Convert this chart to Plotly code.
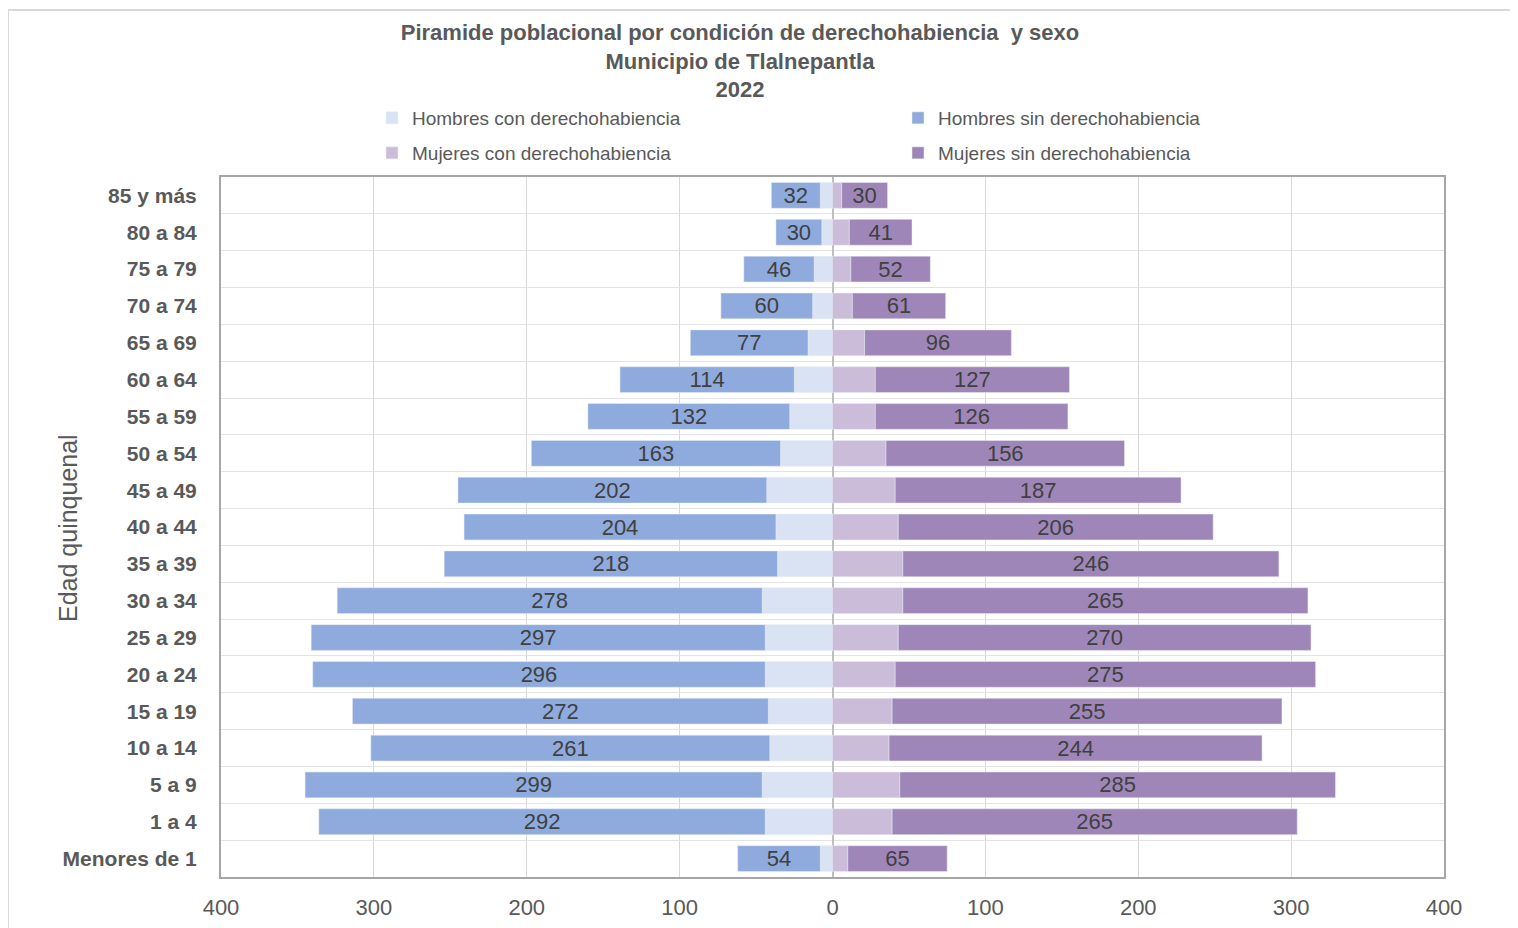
import plotly.graph_objects as go

categorias = ["Menores de 1", "1 a 4", "5 a 9", "10 a 14", "15 a 19", "20 a 24", "25 a 29",
              "30 a 34", "35 a 39", "40 a 44", "45 a 49", "50 a 54", "55 a 59", "60 a 64",
              "65 a 69", "70 a 74", "75 a 79", "80 a 84", "85 y más"]
hombres_con = [8, 44, 46, 41, 42, 44, 44, 46, 36, 37, 43, 34, 28, 25, 16, 13, 12, 7, 8]
hombres_sin = [54, 292, 299, 261, 272, 296, 297, 278, 218, 204, 202, 163, 132, 114, 77, 60, 46, 30, 32]
mujeres_con = [10, 39, 44, 37, 39, 41, 43, 46, 46, 43, 41, 35, 28, 28, 21, 13, 12, 11, 6]
mujeres_sin = [65, 265, 285, 244, 255, 275, 270, 265, 246, 206, 187, 156, 126, 127, 96, 61, 52, 41, 30]
x_ticks = [-400, -300, -200, -100, 0, 100, 200, 300, 400]
x_tick_text = ["400", "300", "200", "100", "0", "100", "200", "300", "400"]

SANS = "Liberation Sans, Arial, sans-serif"
GREY = "#595959"
LBL = "#404040"

c_hcon = "#dae3f3"
c_hsin = "#8faadc"
c_mcon = "#cbbcd9"
c_msin = "#9e87b8"

fig = go.Figure()
fig.add_trace(go.Bar(y=categorias, x=[-v for v in hombres_con], orientation="h",
                     name="Hombres con derechohabiencia", marker_color=c_hcon,
                     legend="legend", hoverinfo="skip"))
fig.add_trace(go.Bar(y=categorias, x=[-v for v in hombres_sin], orientation="h",
                     name="Hombres sin derechohabiencia", marker_color=c_hsin,
                     text=[str(v) for v in hombres_sin], textposition="inside",
                     insidetextanchor="middle", textangle=0, constraintext="none",
                     textfont=dict(family=SANS, size=22, color=LBL),
                     legend="legend", hoverinfo="skip"))
fig.add_trace(go.Bar(y=categorias, x=mujeres_con, orientation="h",
                     name="Mujeres con derechohabiencia", marker_color=c_mcon,
                     legend="legend2", hoverinfo="skip"))
fig.add_trace(go.Bar(y=categorias, x=mujeres_sin, orientation="h",
                     name="Mujeres sin derechohabiencia", marker_color=c_msin,
                     text=[str(v) for v in mujeres_sin], textposition="inside",
                     insidetextanchor="middle", textangle=0, constraintext="none",
                     textfont=dict(family=SANS, size=22, color=LBL),
                     legend="legend2", hoverinfo="skip"))

W, H = 1518, 928
OFF = 8  # page body margin
# plot area in page pixels: x 221..1444, y 177..877
L = 221 - OFF
T = 177 - OFF
R = W - (1444 - OFF)
B = H - (877 - OFF)
pw, ph = W - L - R, H - T - B

def px2paper_x(px):  # px in figure coordinates
    return (px - L) / pw

def px2paper_y(py):
    return (H - B - py) / ph

legend_common = dict(orientation="h", xanchor="left", yanchor="middle",
                     font=dict(family=SANS, size=19, color=GREY),
                     entrywidth=481, entrywidthmode="pixels",
                     bgcolor="rgba(0,0,0,0)", itemwidth=30, traceorder="normal")

fig.update_layout(
    width=W, height=H,
    margin=dict(l=L, r=R, t=T, b=B, autoexpand=False),
    paper_bgcolor="white", plot_bgcolor="white",
    barmode="relative", bargap=0.3,
    showlegend=True,
    title=dict(text="Piramide poblacional por condición de derechohabiencia  y sexo<br>Municipio de Tlalnepantla<br>2022",
               x=(740 - OFF) / W, xanchor="center", xref="container",
               y=1 - 32 / H, yanchor="middle", yref="container",
               font=dict(family=SANS, size=22, color=GREY, weight="bold")),
    legend=dict(x=px2paper_x(364), y=px2paper_y(110), **legend_common),
    legend2=dict(x=px2paper_x(364), y=px2paper_y(145), **legend_common),
    xaxis=dict(range=[-400, 400], tickvals=x_ticks, ticktext=x_tick_text,
               showgrid=True, gridcolor="#d9d9d9", gridwidth=1,
               zeroline=True, zerolinecolor="#bfbfbf", zerolinewidth=2,
               showline=True, linecolor="#a6a6a6", linewidth=2, mirror=True,
               ticks="", ticklabelstandoff=10,
               tickfont=dict(family=SANS, size=22, color=GREY),
               automargin=False, fixedrange=True),
    yaxis=dict(type="category", categoryorder="array", categoryarray=categorias,
               tickson="boundaries", showgrid=True, gridcolor="#e3e3e3", gridwidth=1,
               showline=True, linecolor="#a6a6a6", linewidth=2, mirror=True,
               ticks="", ticklabelstandoff=18,
               tickfont=dict(family=SANS, size=21, color=GREY, weight="bold"),
               automargin=False, fixedrange=True),
    annotations=[dict(text="Edad quinquenal", textangle=-90, showarrow=False,
                      xref="paper", yref="paper", x=px2paper_x(68 - OFF), y=px2paper_y(528 - OFF),
                      xanchor="center", yanchor="middle",
                      font=dict(family=SANS, size=25, color=GREY))],
    shapes=[dict(type="line", xref="paper", yref="paper",
                 x0=px2paper_x(0), x1=px2paper_x(0), y0=px2paper_y(2), y1=px2paper_y(940),
                 line=dict(color="#d9d9d9", width=2)),
            dict(type="line", xref="paper", yref="paper",
                 x0=px2paper_x(0), x1=px2paper_x(1530), y0=px2paper_y(2), y1=px2paper_y(2),
                 line=dict(color="#d9d9d9", width=2))],
)

fig.write_html("out.html")
